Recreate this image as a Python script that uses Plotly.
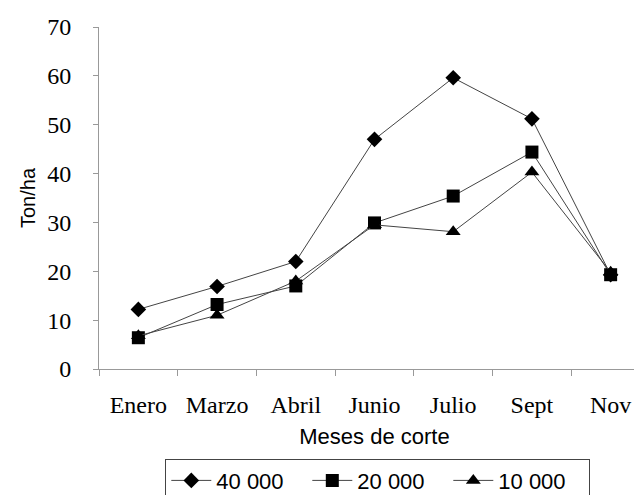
import plotly.graph_objects as go

months = ["Enero", "Marzo", "Abril", "Junio", "Julio", "Sept", "Nov"]
s40000 = [12.2, 16.9, 22.0, 47.0, 59.6, 51.2, 19.3]
s20000 = [6.4, 13.2, 17.0, 29.9, 35.4, 44.4, 19.3]
s10000 = [6.8, 11.0, 18.0, 29.5, 28.1, 40.3, 19.8]
names = ["40 000", "20 000", "10 000"]
symbols = ["diamond", "square", "triangle-up"]
sizes = [12, 13, 13]

fig = go.Figure()
for name, vals, sym, sz in zip(names, [s40000, s20000, s10000], symbols, sizes):
    fig.add_trace(go.Scatter(
        x=months, y=vals, name=name, mode="lines+markers",
        line=dict(color="#444444", width=1),
        marker=dict(symbol=sym, size=sz, color="black"),
    ))

fig.update_layout(
    width=642, height=495,
    margin=dict(l=91, r=0, t=19, b=127),
    paper_bgcolor="white", plot_bgcolor="white",
    showlegend=True,
    legend=dict(
        orientation="h", x=0.506, xanchor="center", y=-0.262, yanchor="top",
        bordercolor="#444444", borderwidth=1,
        font=dict(family="Liberation Sans, Arial", size=22, color="black"),
        itemwidth=40, entrywidth=86,
    ),
    xaxis=dict(
        type="category", range=[-0.5, 6.5],
        showline=True, linecolor="#999999", linewidth=1,
        ticks="outside", tickson="boundaries", ticklen=6, tickcolor="#999999",
        showgrid=False, ticklabelstandoff=14,
        tickfont=dict(family="Liberation Serif, Times New Roman", size=24, color="black"),
        title=dict(text="Meses de corte", font=dict(family="Liberation Sans, Arial", size=22, color="black"), standoff=11),
    ),
    yaxis=dict(
        range=[0, 70], dtick=10,
        showline=True, linecolor="#999999", linewidth=1,
        ticks="outside", ticklen=5, tickcolor="#999999",
        showgrid=False, zeroline=False, ticklabelstandoff=17,
        tickfont=dict(family="Liberation Serif, Times New Roman", size=24, color="black"),
        title=dict(text="Ton/ha", font=dict(family="Liberation Sans, Arial", size=20, color="black"), standoff=6),
    ),
)

fig.write_html("out.html")
